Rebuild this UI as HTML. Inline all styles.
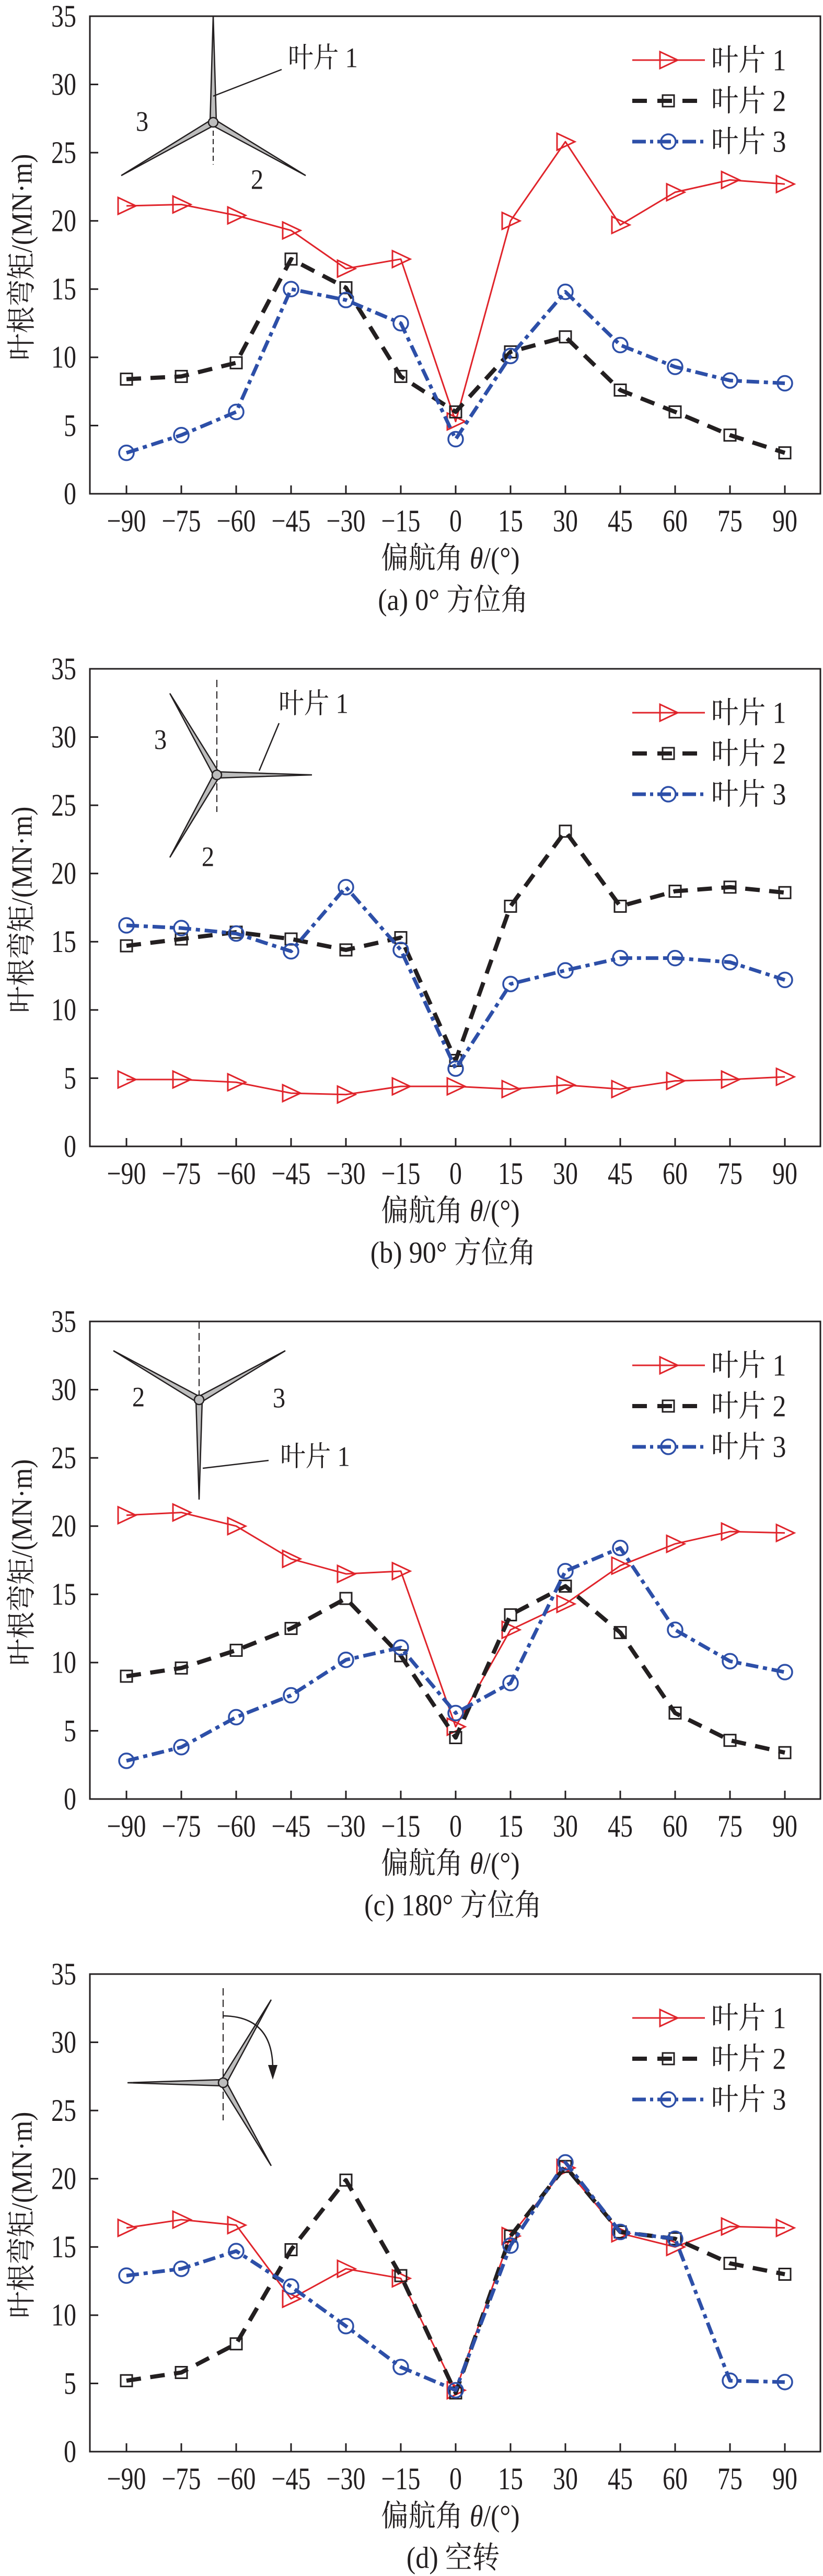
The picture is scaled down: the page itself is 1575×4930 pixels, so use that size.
<!DOCTYPE html>
<html><head><meta charset="utf-8">
<style>
html,body{margin:0;padding:0;background:#fff;}
svg{display:block;}
text{font-family:"Liberation Serif","Noto Serif CJK SC",serif;fill:#231f20;}
</style></head>
<body>
<svg id="chart" width="1575" height="4930" viewBox="0 0 1575 4930" xmlns="http://www.w3.org/2000/svg"></svg>
<script>
const categories = [-90,-75,-60,-45,-30,-15,0,15,30,45,60,75,90];
const yTicks = [0,5,10,15,20,25,30,35];
const seriesNames = ["叶片 1","叶片 2","叶片 3"];
const captions = ["(a) 0° 方位角","(b) 90° 方位角","(c) 180° 方位角","(d) 空转"];

const a_blade1 = [21.1,21.2,20.4,19.3,16.5,17.2,5.3,20.0,25.8,19.7,22.1,23.0,22.7];
const a_blade2 = [8.4,8.6,9.6,17.2,15.1,8.6,6.0,10.4,11.5,7.6,6.0,4.3,3.0];
const a_blade3 = [3.0,4.3,6.0,15.0,14.2,12.5,4.0,10.1,14.8,10.9,9.3,8.3,8.1];

const b_blade1 = [4.9,4.9,4.7,3.9,3.8,4.4,4.4,4.2,4.5,4.2,4.8,4.9,5.1];
const b_blade2 = [14.7,15.2,15.7,15.2,14.4,15.3,6.3,17.6,23.1,17.6,18.7,19.0,18.6];
const b_blade3 = [16.2,16.0,15.6,14.3,19.0,14.4,5.7,11.9,12.9,13.8,13.8,13.5,12.2];

const c_blade1 = [20.8,21.0,20.0,17.6,16.5,16.7,5.3,12.4,14.3,17.1,18.7,19.6,19.5];
const c_blade2 = [9.0,9.6,10.9,12.5,14.7,10.5,4.5,13.5,15.6,12.2,6.3,4.3,3.4];
const c_blade3 = [2.8,3.8,6.0,7.6,10.2,11.1,6.3,8.5,16.7,18.4,12.4,10.1,9.3];

const d_blade1 = [16.4,17.0,16.6,11.2,13.4,12.7,4.5,15.8,20.8,16.0,15.0,16.5,16.4];
const d_blade2 = [5.2,5.8,7.9,14.8,19.9,12.9,4.3,15.8,20.9,16.1,15.6,13.8,13.0];
const d_blade3 = [12.9,13.4,14.7,12.1,9.2,6.2,4.5,15.1,21.2,16.1,15.6,5.2,5.1];

const panels = [
  {key:"a", s:[a_blade1,a_blade2,a_blade3]},
  {key:"b", s:[b_blade1,b_blade2,b_blade3]},
  {key:"c", s:[c_blade1,c_blade2,c_blade3]},
  {key:"d", s:[d_blade1,d_blade2,d_blade3]}
];

const NS = "http://www.w3.org/2000/svg";
const svg = document.getElementById("chart");
function mk(tag, attrs, parent){
  const e = document.createElementNS(NS, tag);
  for (const k in attrs) e.setAttribute(k, attrs[k]);
  (parent||svg).appendChild(e);
  return e;
}
const L=172, R=1570, T=31, B=945;
const xMin=-90, xMax=90, x0=242, x1=1502;
function xs(v){ return x0 + (v - xMin) / (xMax - xMin) * (x1 - x0); }
function ys(v){ return B - v / 35 * (B - T); }

const styles = [
  {color:"#e0242b", w:3, dash:null, marker:"tri"},
  {color:"#231f20", w:8, dash:"28 18", marker:"sq"},
  {color:"#2d4fa8", w:7, dash:"24 9 8 9", marker:"circ"}
];

function marker(g, type, x, y, color){
  let m;
  if (type === "tri") {
    m = mk("polygon", {points:`${x-16},${y-16} ${x+18},${y} ${x-16},${y+16}`, fill:"none", stroke:color, "stroke-width":3}, g);
  } else if (type === "sq") {
    m = mk("rect", {x:x-11, y:y-11, width:22, height:22, fill:"none", stroke:color, "stroke-width":3}, g);
  } else {
    m = mk("circle", {cx:x, cy:y, r:14, fill:"none", stroke:color, "stroke-width":3.5}, g);
  }
  return m;
}

function blade(g, hx, hy, tx, ty, w){
  const dx = tx-hx, dy = ty-hy, len = Math.hypot(dx,dy);
  const nx = -dy/len*w, ny = dx/len*w;
  const p = mk("polygon", {points:`${hx+nx},${hy+ny} ${tx},${ty} ${hx-nx},${hy-ny}`, fill:"#bdbdbd", stroke:"#231f20", "stroke-width":2.5, "stroke-linejoin":"miter"}, g);
  
  
}
function hub(g, x, y){
  const c = mk("circle", {cx:x, cy:y, r:9, fill:"#bdbdbd", stroke:"#231f20", "stroke-width":2.5}, g);
  
  
}
function label(g, x, y, txt, name){
  const t = mk("text", {x:x/0.9, y:y, "font-size":54, "text-anchor":"middle", "dominant-baseline":"central", transform:"scale(0.9,1)"}, g);
  t.textContent = txt;
  
  
}
function line(g, x1_, y1_, x2_, y2_, w, dash){
  const l = mk("line", {x1:x1_, y1:y1_, x2:x2_, y2:y2_, stroke:"#231f20", "stroke-width":w||2.5}, g);
  if (dash) l.setAttribute("stroke-dasharray", dash);
  return l;
}

function drawTurbine(g, idx){
  const d = mk("g", {}, g);
  
  
  if (idx === 0) {
    line(d, 408, 250, 408, 315, 2, "10 6");
    blade(d, 408, 234, 408, 30, 6);
    blade(d, 408, 234, 232, 336, 6);
    blade(d, 408, 234, 585, 336, 6);
    hub(d, 408, 234);
    line(d, 539, 133, 408, 184, 2.5);
    label(d, 618, 111, "叶片 1", "blade-1-label");
    label(d, 272, 233, "3", "blade-3-label");
    label(d, 492, 344, "2", "blade-2-label");
  } else if (idx === 1) {
    line(d, 415, 52, 415, 305, 2, "14 8");
    blade(d, 415, 234, 597, 234, 6);
    blade(d, 415, 234, 325, 78, 6);
    blade(d, 415, 234, 325, 392, 6);
    hub(d, 415, 234);
    line(d, 534, 135, 496, 226, 2.5);
    label(d, 600, 98, "叶片 1", "blade-1-label");
    label(d, 307, 167, "3", "blade-3-label");
    label(d, 398, 391, "2", "blade-2-label");
  } else if (idx === 2) {
    line(d, 381, 31, 381, 181, 2, "14 8");
    blade(d, 381, 181, 381, 372, 6);
    blade(d, 381, 181, 217, 87, 6);
    blade(d, 381, 181, 546, 87, 6);
    hub(d, 381, 181);
    line(d, 514, 297, 388, 312, 2.5);
    label(d, 603, 290, "叶片 1", "blade-1-label");
    label(d, 265, 176, "2", "blade-2-label");
    label(d, 534, 178, "3", "blade-3-label");
  } else {
    line(d, 427, 58, 427, 311, 2, "14 8");
    blade(d, 427, 239, 244, 239, 6);
    blade(d, 427, 239, 519, 80, 6);
    blade(d, 427, 239, 519, 398, 6);
    hub(d, 427, 239);
    const arc = mk("path", {d:"M427,111 Q522,112 522,212", fill:"none", stroke:"#231f20", "stroke-width":2.5}, d);
    
    
    const ah = mk("polygon", {points:"513,205 531,205 522,233", fill:"#231f20"}, d);
    
    
  }
}

panels.forEach((p, idx) => {
  const off = idx * 1249;
  const g = mk("g", {transform:`translate(0,${off})`});
  
  

  const frame = mk("rect", {x:L, y:T, width:R-L, height:B-T, fill:"none", stroke:"#231f20", "stroke-width":3}, g);
  
  

  yTicks.forEach(v => {
    const y = ys(v);
    const tk = line(g, L, y, L+16, y, 3);
    
    
    const t = mk("text", {x:146/0.8, y:y, "font-size":60, "text-anchor":"end", "dominant-baseline":"central", transform:"scale(0.8,1)"}, g);
    t.textContent = v;
    
    
  });
  categories.forEach(c => {
    const x = xs(c);
    const tk = line(g, x, B, x, B-16, 3);
    
    
    const t = mk("text", {x:x/0.8, y:B+52, "font-size":60, "text-anchor":"middle", "dominant-baseline":"central", transform:"scale(0.8,1)"}, g);
    t.textContent = c < 0 ? "\u2212" + Math.abs(c) : String(c);
    
    
  });

  const yt = mk("text", {x:0, y:0, "font-size":56, "text-anchor":"middle", "dominant-baseline":"central", transform:"translate(42,492) rotate(-90) scale(0.92,1)"}, g);
  yt.textContent = "叶根弯矩/(MN·m)";
  
  

  const xt = mk("text", {x:862/0.9, y:1068, "font-size":58, "text-anchor":"middle", "dominant-baseline":"central", transform:"scale(0.9,1)"}, g);
  xt.innerHTML = '偏航角 <tspan font-style="italic">θ</tspan>/(°)';
  
  

  const cap = mk("text", {x:867/0.9, y:1148, "font-size":58, "text-anchor":"middle", "dominant-baseline":"central", transform:"scale(0.9,1)"}, g);
  cap.textContent = captions[idx];
  
  

  drawTurbine(g, idx);

  p.s.forEach((vals, si) => {
    const st = styles[si];
    const sg = mk("g", {}, g);
    
    
    const pts = vals.map((v, i) => `${xs(categories[i])},${ys(v)}`).join(" ");
    const pl = mk("polyline", {points:pts, fill:"none", stroke:st.color, "stroke-width":st.w, "stroke-linejoin":"round"}, sg);
    if (st.dash) pl.setAttribute("stroke-dasharray", st.dash);
    
    
    vals.forEach((v, i) => {
      const m = marker(sg, st.marker, xs(categories[i]), ys(v), st.color);
      
      
    });

    const ly = 115 + si * 78;
    const lg = mk("g", {}, g);
    
    
    const ll = mk("line", {x1:1210, y1:ly, x2:1349, y2:ly, stroke:st.color, "stroke-width":st.w}, lg);
    if (st.dash) ll.setAttribute("stroke-dasharray", si === 1 ? "28 20" : "26 8 6 8");
    marker(lg, st.marker, 1279, ly, st.color);
    const lt = mk("text", {x:1361/0.9, y:ly, "font-size":58, "dominant-baseline":"central", transform:"scale(0.9,1)"}, lg);
    lt.textContent = seriesNames[si];
  });
});
</script>
</body></html>
